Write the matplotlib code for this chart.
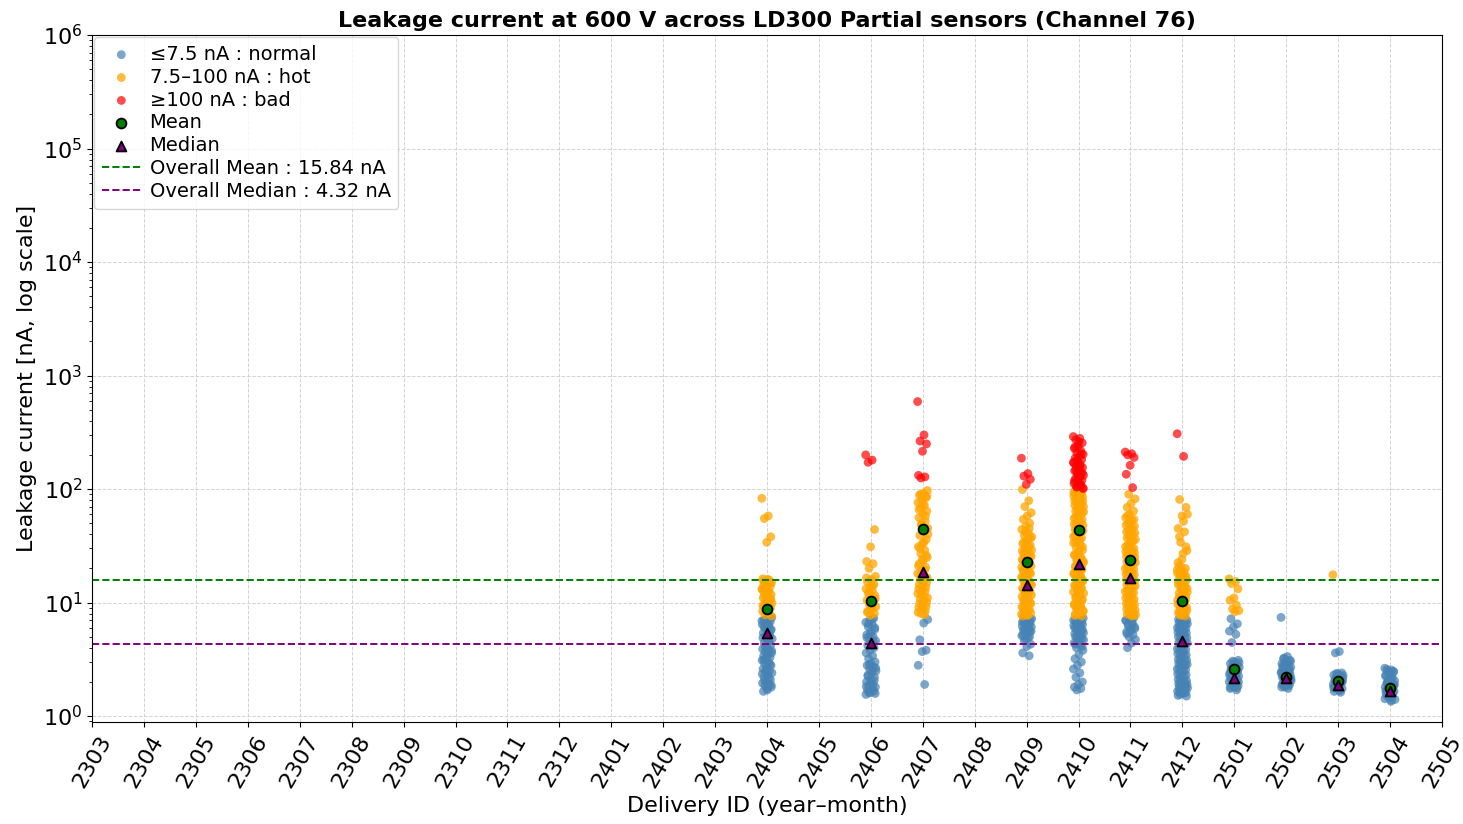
import numpy as np
import matplotlib
matplotlib.use("Agg")
from matplotlib import pyplot as plt

# x axis categories (year-month)
months = ["2303", "2304", "2305", "2306", "2307", "2308", "2309", "2310", "2311", "2312",
          "2401", "2402", "2403", "2404", "2405", "2406", "2407", "2408", "2409", "2410",
          "2411", "2412", "2501", "2502", "2503", "2504", "2505"]

# leakage current per delivery [nA]
leak_2404 = [83, 58, 55, 38, 34,
             16.2, 15.8, 15.3, 15, 14.6, 14.2, 13.8, 13.4, 13, 12.6, 12.2, 11.8, 11.4, 11, 10.6,
             10.2, 9.9, 9.6, 9.3, 9, 8.7, 8.4, 8.1, 7.8, 7.6,
             16, 15.5, 14.8, 14, 13.2, 12.4, 11.6, 10.8, 10, 9.4, 8.9, 8.3,
             7.4, 7.2, 7.0, 6.8, 6.6, 6.4, 6.2, 6.0, 5.8, 5.6, 5.4, 5.2, 5.0, 4.8, 4.6, 4.4, 4.2,
             4.0, 3.9, 3.8, 3.7, 3.6, 3.5, 3.4, 3.3, 3.2, 3.1, 3.0, 2.9, 2.8, 2.7, 2.6, 2.5, 2.45,
             2.4, 2.3, 2.2, 2.1, 2.0, 1.95, 1.9, 1.85, 1.8, 1.7, 1.65,
             7.3, 7.1, 6.9, 6.5, 6.1, 5.7, 5.3, 4.9, 4.5, 4.1, 3.75, 3.45, 3.15, 2.85, 2.55, 2.35,
             2.15, 2.05, 1.88, 1.75]
leak_2406 = [200, 180, 172, 44, 31, 23, 22, 20,
             17, 16, 15.2, 14.5, 13.8, 13.2, 12.6, 12, 11.5, 11, 10.5, 10, 9.6, 9.2, 8.8, 8.4, 8, 7.7,
             16.5, 14, 12.3, 10.8, 9.4, 8.2,
             7.3, 7, 6.7, 6.4, 6.1, 5.8, 5.5, 5.2, 5, 4.8, 4.6, 4.4, 4.2, 4, 3.8, 3.6, 3.4, 3.2, 3,
             2.9, 2.8, 2.7, 2.6, 2.5, 2.4, 2.3, 2.2, 2.1, 2.0, 1.9, 1.85, 1.8, 1.75, 1.7, 1.65, 1.6, 1.55,
             7.1, 6.5, 6.0, 5.3, 4.9, 4.5, 2.85, 2.65, 2.45, 2.25, 2.05, 1.95, 1.82, 1.72, 1.62, 1.58]
leak_2407 = [590, 300, 265, 250, 215, 132, 128, 125,
             97, 92, 88, 84, 80, 76, 72, 68, 64, 60, 56, 52, 48, 45, 42, 39, 36, 33, 31, 29, 27, 25,
             23.5, 22, 20.5, 19, 18, 17, 16, 15, 14, 13.2, 12.5, 11.8, 11, 10.4, 9.8, 9.2, 8.7, 8.2, 7.8,
             90, 86, 74, 66, 58, 50, 40, 34, 30, 26, 24, 21, 19.5, 17.5, 16.5, 15.5, 14.5, 13.6, 12.8,
             12, 11.4, 10.7, 10, 9.5, 9, 8.4, 8,
             7.1, 6.6, 4.7, 3.8, 3.7, 2.8, 1.9]
leak_2409 = [187, 137, 130, 122, 110,
             99, 79, 70, 62, 58, 54, 50, 47, 44, 41, 39, 37, 35, 33, 31, 30, 29, 28, 27, 26, 25, 24, 23,
             22, 21, 20, 19.2, 18.4, 17.6, 16.8, 16, 15.3, 14.6, 14, 13.4, 12.8, 12.2, 11.6, 11, 10.5,
             10, 9.6, 9.2, 8.8, 8.4, 8.1, 7.8, 7.6,
             45, 42, 38, 36, 34, 32, 30.5, 28.5, 27.5, 26.5, 25.5, 24.5, 23.5, 22.5, 21.5, 20.5, 19.6,
             18.8, 18, 17.2, 16.4, 15.6, 15, 14.3, 13.7, 13.1, 12.5, 11.9, 11.3, 10.7, 10.2, 9.8, 9.4,
             9, 8.6, 8.3, 7.9, 7.7,
             7.3, 7.1, 6.9, 6.7, 6.5, 6.3, 6.1, 5.9, 5.7, 5.5, 5.3, 5.1, 4.9, 4.6, 4.3, 4.1, 3.6, 3.4,
             7.4, 7.2, 7.0, 6.8, 6.6, 6.4, 6.2, 6.0, 5.8, 5.6, 5.4, 5.2, 5.0, 4.8]
leak_2410 = [290, 280, 272, 255, 240, 228, 218, 210, 202, 195, 188, 182, 176, 170, 165, 160, 155,
             150, 145, 140, 136, 132, 128, 124, 120, 116, 112, 108, 105, 102,
             260, 235, 205, 185, 172, 158, 147, 138, 126, 118, 110, 104, 101,
             99, 96, 93, 90, 87, 84, 81, 78, 75, 72, 69, 66, 63, 60, 57, 54, 51, 49, 47, 45, 43, 41,
             39, 37, 35, 33.5, 32, 30.5, 29, 27.5, 26, 25, 24, 23, 22, 21, 20, 19, 18.2, 17.4, 16.6,
             15.8, 15, 14.3, 13.6, 13, 12.4, 11.8, 11.2, 10.7, 10.2, 9.7, 9.3, 8.9, 8.5, 8.2, 7.9, 7.6,
             98, 94, 91, 88, 85, 82, 79, 76, 73, 70, 67, 64, 61, 58, 55, 52, 50, 48, 46, 44, 42, 40,
             38, 36, 34, 31, 28, 26.5, 24.5, 23.5, 22.5, 21.5, 20.5, 19.5, 18.6, 17.8, 17, 16.2, 15.4,
             14.6, 14, 13.3, 12.7, 12.1, 11.5, 11, 10.5, 10, 9.5, 9.1, 8.7, 8.3, 8, 7.7,
             7.4, 7.2, 7.0, 6.8, 6.6, 6.4, 6.2, 6.0, 5.8, 5.6, 5.4, 5.2, 5.0, 4.8, 4.6, 4.4, 4.2, 4.0,
             3.8, 3.5, 3.2, 3.0, 2.8, 2.6, 2.4, 2.2, 2.0, 1.9, 1.8, 1.75, 1.7,
             7.3, 7.1, 6.9, 6.7, 6.5, 6.3, 6.1, 5.9, 5.7, 5.5, 5.3, 5.1, 4.9, 4.7, 4.5, 4.3, 4.1]
leak_2411 = [212, 205, 200, 190, 162, 135, 103,
             90, 82, 75, 69, 64, 60, 56, 53, 50, 47, 44, 42, 40, 38, 36, 34, 32, 30, 29, 28, 27, 26, 25,
             24, 23, 22, 21, 20, 19.2, 18.4, 17.6, 16.8, 16, 15.3, 14.6, 14, 13.4, 12.8, 12.2, 11.6, 11,
             10.5, 10, 9.6, 9.2, 8.8, 8.4, 8.1, 7.8, 7.6,
             58, 54, 51, 48, 45, 43, 41, 39, 37, 35, 33, 31, 29.5, 28.5, 27.5, 26.5, 25.5, 24.5, 23.5,
             22.5, 21.5, 20.5, 19.6, 18.8, 18, 17.2, 16.4, 15.6, 15, 14.3, 13.7, 13.1, 12.5, 11.9, 11.3,
             10.7, 10.2, 9.8, 9.4, 9, 8.6, 8.2, 7.9, 7.7,
             7.3, 7.0, 6.7, 6.4, 6.1, 5.8, 5.5, 5.2, 5.0, 4.7, 4.4, 4.0,
             7.4, 7.2, 6.9, 6.5, 6.2, 5.9, 5.6, 5.3]
leak_2412 = [307, 194,
             81, 69, 58, 45, 42, 34, 28.7, 27, 21, 20, 19, 18.2, 17.4, 16.6, 15.8, 15, 14.3, 13.6, 13,
             12.4, 11.8, 11.2, 10.7, 10.2, 9.7, 9.3, 8.9, 8.5, 8.2, 7.9, 7.6,
             20.5, 19.5, 18.6, 17.8, 17, 16.2, 15.4, 14.6, 14, 13.3, 12.7, 12.1, 11.5, 11, 10.5, 10,
             9.5, 9.1, 8.7, 8.3, 8, 7.7, 60, 52, 38, 31, 24, 22.5,
             7.4, 7.2, 7.0, 6.8, 6.6, 6.4, 6.2, 6.0, 5.8, 5.6, 5.4, 5.2, 5.0, 4.8, 4.6, 4.4, 4.2, 4.0,
             3.85, 3.7, 3.55, 3.4, 3.25, 3.1, 3.0, 2.9, 2.8, 2.7, 2.6, 2.5, 2.4, 2.3, 2.2, 2.1, 2.0,
             1.95, 1.9, 1.85, 1.8, 1.75, 1.7, 1.65, 1.6, 1.55, 1.5,
             7.3, 7.1, 6.9, 6.7, 6.5, 6.3, 6.1, 5.9, 5.7, 5.5, 5.3, 5.1, 4.9, 4.7, 4.5, 4.3, 4.1, 3.9,
             3.75, 3.6, 3.45, 3.3, 3.15, 3.05, 2.95, 2.85, 2.75, 2.65, 2.55, 2.45, 2.35, 2.25, 2.15,
             2.05, 1.98, 1.92, 1.87, 1.82, 1.77, 1.72, 1.68, 1.62, 1.58, 1.52]
leak_2501 = [16.2, 15.3, 14.7, 13.2, 11, 10.5, 9.5, 8.8, 8.5, 8.3,
             7.2, 6.5, 6.1, 5.6, 5.25, 4.45, 3.1, 3.0, 2.9, 2.8, 2.75, 2.7, 2.6, 2.55, 2.5, 2.45, 2.4,
             2.35, 2.3, 2.25, 2.2, 2.15, 2.1, 2.05, 2.0, 1.95, 1.9, 1.85, 1.8, 1.75, 1.7,
             3.05, 2.95, 2.85, 2.65, 2.5, 2.4, 2.3, 2.2, 2.1, 2.0, 1.9, 1.8, 1.78]
leak_2502 = [7.4, 3.35, 3.2, 3.1, 3.0, 2.9, 2.85, 2.8, 2.7, 2.65, 2.6, 2.55, 2.5, 2.45, 2.4, 2.35,
             2.3, 2.25, 2.2, 2.15, 2.1, 2.05, 2.0, 1.95, 1.9, 1.85, 1.8, 1.75,
             3.25, 3.05, 2.95, 2.75, 2.6, 2.5, 2.4, 2.3, 2.2, 2.1, 2.0, 1.9, 1.85, 1.8, 2.15, 2.25,
             2.35, 2.45]
leak_2503 = [17.6, 3.7, 3.6, 2.4, 2.35, 2.3, 2.25, 2.2, 2.15, 2.1, 2.05, 2.0, 1.95, 1.9, 1.85, 1.8,
             1.75, 1.7, 1.65, 1.62,
             2.38, 2.28, 2.18, 2.08, 1.98, 1.88, 1.78, 1.68, 2.12, 2.02, 1.92, 1.82]
leak_2504 = [2.64, 2.55, 2.5, 2.45, 2.4, 2.3, 2.2, 2.1, 2.05, 2.0, 1.95, 1.9, 1.85, 1.8, 1.75, 1.7,
             1.65, 1.6, 1.55, 1.5, 1.45, 1.4, 1.35,
             2.58, 2.48, 2.35, 2.25, 2.15, 2.0, 1.9, 1.8, 1.7, 1.6, 1.5, 1.42, 1.38, 1.95, 1.85,
             1.75, 1.65]

deliveries = ["2404", "2406", "2407", "2409", "2410", "2411", "2412", "2501", "2502", "2503", "2504"]
group_mean = [8.7, 10.4, 44.6, 23.0, 43.7, 23.5, 10.3, 2.58, 2.2, 2.04, 1.76]
group_median = [5.4, 4.4, 18.6, 14.4, 22.0, 16.5, 4.6, 2.18, 2.15, 1.88, 1.65]
overall_mean = 15.84
overall_median = 4.32

leak = dict(zip(deliveries, [leak_2404, leak_2406, leak_2407, leak_2409, leak_2410, leak_2411,
                             leak_2412, leak_2501, leak_2502, leak_2503, leak_2504]))

HOT = 7.5
BAD = 100

fig = plt.figure(figsize=(14.63, 8.24), dpi=100)
ax = fig.add_axes([0.063, 0.124, 0.9226, 0.8335])

xs = {"normal": [], "hot": [], "bad": []}
ys = {"normal": [], "hot": [], "bad": []}
for d in deliveries:
    vals = np.array(leak[d], dtype=float)
    pos = months.index(d)
    # deterministic horizontal spread so the points don't sit on top of each other
    jit = ((np.arange(len(vals)) * 0.618034) % 1 - 0.5) * 0.2
    for v, j in zip(vals, jit):
        if v <= HOT:
            k = "normal"
        elif v < BAD:
            k = "hot"
        else:
            k = "bad"
        xs[k].append(pos + j)
        ys[k].append(v)

h1 = ax.scatter(xs["normal"], ys["normal"], s=40, color="steelblue", alpha=0.7,
                edgecolors="none", label="≤7.5 nA : normal")
h2 = ax.scatter(xs["hot"], ys["hot"], s=40, color="orange", alpha=0.75,
                edgecolors="none", label="7.5–100 nA : hot")
h3 = ax.scatter(xs["bad"], ys["bad"], s=40, color="red", alpha=0.7,
                edgecolors="none", label="≥100 nA : bad")

dpos = [months.index(d) for d in deliveries]
h4 = ax.scatter(dpos, group_mean, s=50, marker="o", color="green", edgecolors="black",
                linewidths=1.3, zorder=5, label="Mean")
h5 = ax.scatter(dpos, group_median, s=50, marker="^", color="purple", edgecolors="black",
                linewidths=1.3, zorder=5, label="Median")

l1 = ax.axhline(overall_mean, color="green", linestyle="--", linewidth=1.4,
                label=f"Overall Mean : {overall_mean:.2f} nA")
l2 = ax.axhline(overall_median, color="purple", linestyle="--", linewidth=1.4,
                label=f"Overall Median : {overall_median:.2f} nA")

ax.set_yscale("log")
ax.set_ylim(0.89, 1e6)
ax.set_xlim(0, len(months) - 1)
ax.set_xticks(range(len(months)))
ax.set_xticklabels(months, rotation=60, fontsize=16)
ax.tick_params(axis="y", labelsize=16)
ax.grid(True, which="major", linestyle="--", color="lightgray", linewidth=0.7)
ax.set_axisbelow(True)

ax.set_xlabel("Delivery ID (year–month)", fontsize=16)
ax.set_ylabel("Leakage current [nA, log scale]", fontsize=16)
ax.set_title("Leakage current at 600 V across LD300 Partial sensors (Channel 76)",
             fontsize=16, fontweight="bold")

ax.legend(handles=[h1, h2, h3, h4, h5, l1, l2], loc="upper left", fontsize=14,
          labelspacing=0.2, handletextpad=0.45, borderaxespad=0.1, borderpad=0.4)

fig.savefig("out.png", dpi=100)
